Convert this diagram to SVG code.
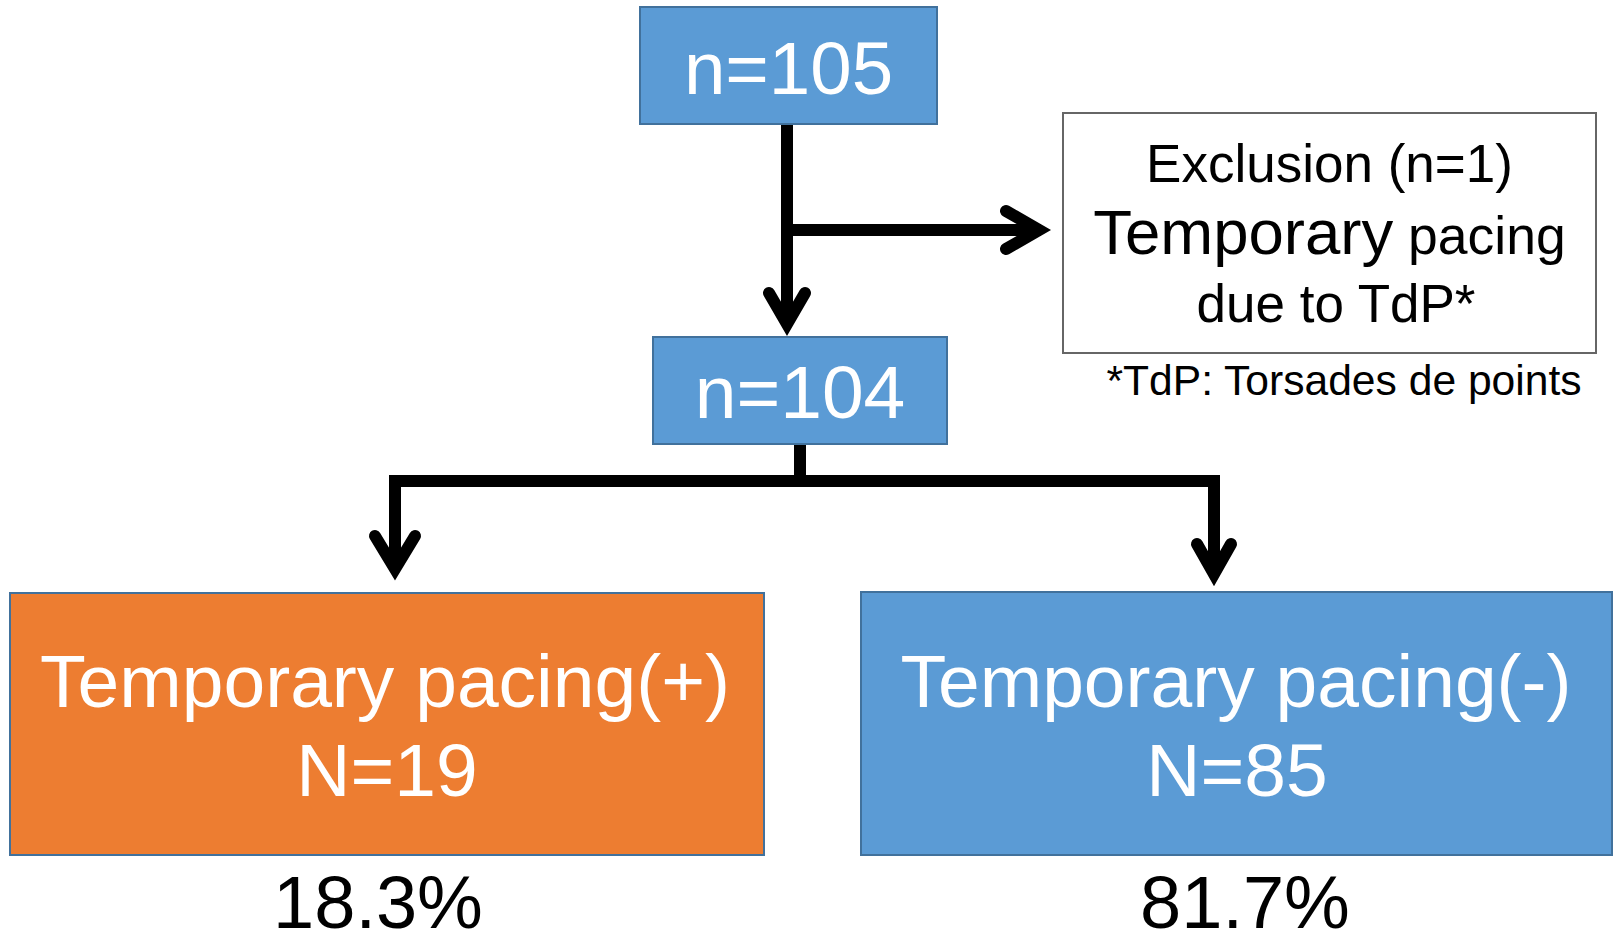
<svg xmlns="http://www.w3.org/2000/svg" width="1613" height="941" viewBox="0 0 1613 941">
  <style>
    .box-blue { fill: #5B9BD5; stroke: #41719C; stroke-width: 2; }
    .box-orange { fill: #ED7D31; stroke: #41719C; stroke-width: 2; }
    .box-white { fill: #FFFFFF; stroke: #666666; stroke-width: 2; }
    .t { font-family: "Liberation Sans", Arial, sans-serif; text-anchor: middle; }
    .w { fill: #FFFFFF; }
    .k { fill: #000000; }
    .line { fill: none; stroke: #000000; stroke-width: 12; stroke-linejoin: miter; stroke-linecap: butt; }
    .head { fill: none; stroke: #000000; stroke-width: 12; stroke-linejoin: miter; stroke-miterlimit: 10; stroke-linecap: round; }
  </style>

  <rect width="1613" height="941" fill="#FFFFFF"/>

  <g id="connectors">
    <!-- n=105 down to n=104 -->
    <path class="line" d="M787,124 V324"/>
    <path class="head" d="M769,293 L787,324 L805,293"/>
    <!-- branch to exclusion -->
    <path class="line" d="M787,230 H1039"/>
    <path class="head" d="M1006,211 L1039,230 L1006,249"/>
    <!-- n=104 split -->
    <path class="line" d="M800,444 V487"/>
    <path class="line" d="M395,569 V481 H1214 V574"/>
    <path class="head" d="M375,536 L395,569 L415,536"/>
    <path class="head" d="M1197,544 L1214,574 L1231,544"/>
  </g>

  <g id="node-n105">
    <rect class="box-blue" x="640" y="7" width="297" height="117"/>
    <text class="t w" x="788.5" y="94" font-size="74.5">n=105</text>
  </g>

  <g id="node-n104">
    <rect class="box-blue" x="653" y="337" width="294" height="107"/>
    <text class="t w" x="800" y="418" font-size="75">n=104</text>
  </g>

  <g id="node-exclusion">
    <rect class="box-white" x="1063" y="113" width="533" height="240"/>
    <text class="t k" x="1329.5" y="182" font-size="53">Exclusion (n=1)</text>
    <text class="t k" x="1329.5" y="254"><tspan font-size="63.5">Temporary</tspan><tspan font-size="53.5"> pacing</tspan></text>
    <text class="t k" x="1336" y="322" font-size="53">due to TdP*</text>
  </g>

  <g id="footnote">
    <text class="t k" x="1344" y="395" font-size="42.6">*TdP: Torsades de points</text>
  </g>

  <g id="node-pacing-plus">
    <rect class="box-orange" x="10" y="593" width="754" height="262"/>
    <text class="t w" x="385" y="707" font-size="75">Temporary pacing(+)</text>
    <text class="t w" x="387" y="796" font-size="75">N=19</text>
  </g>
  <text class="t k" x="378" y="928" font-size="74">18.3%</text>

  <g id="node-pacing-minus">
    <rect class="box-blue" x="861" y="592" width="751" height="263"/>
    <text class="t w" x="1236" y="707" font-size="75">Temporary pacing(-)</text>
    <text class="t w" x="1237" y="796" font-size="75">N=85</text>
  </g>
  <text class="t k" x="1245" y="928" font-size="74">81.7%</text>
</svg>
